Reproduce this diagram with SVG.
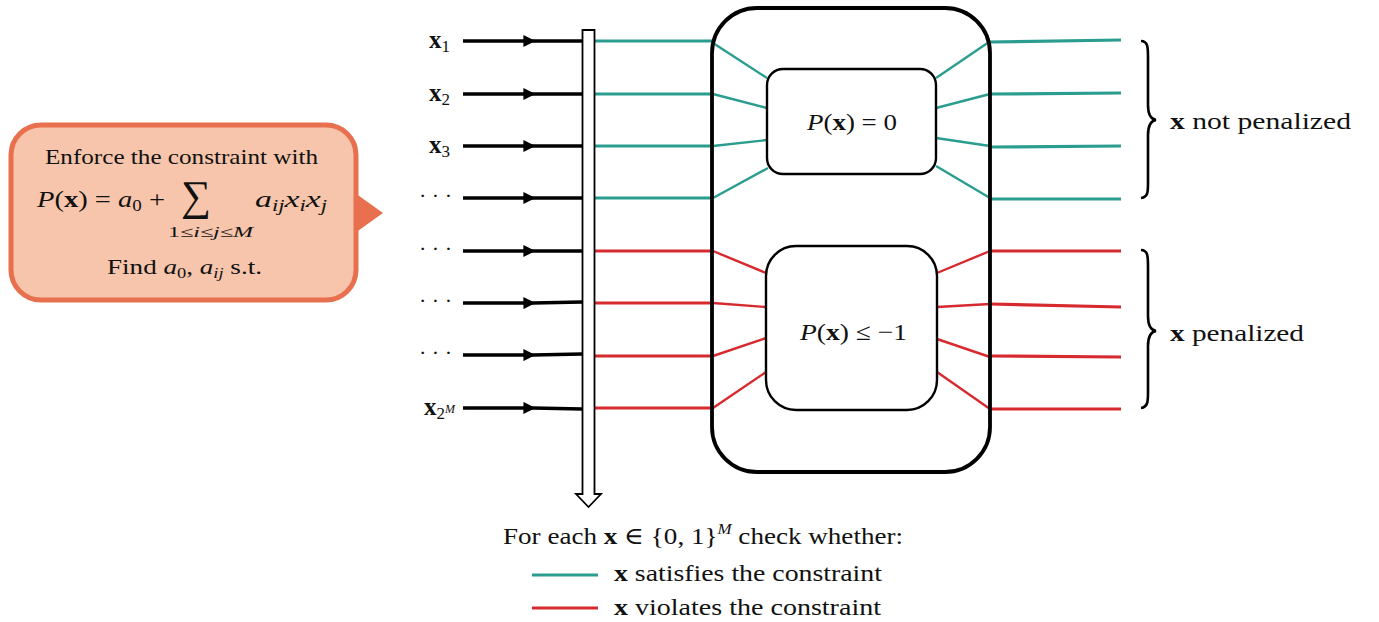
<svg xmlns="http://www.w3.org/2000/svg" width="1379" height="622" viewBox="0 0 1379 622">
<style>
text{font-family:"Liberation Serif","DejaVu Serif",serif;fill:#111;}
.b{font-weight:bold;}
.i{font-style:italic;}
.in{stroke:#000;stroke-width:3.5;fill:none;marker-mid:url(#ah);}
.g{stroke:#2a9d8f;stroke-width:3.2;fill:none;}
.gd{stroke:#2a9d8f;stroke-width:2.4;fill:none;}
.r{stroke:#d62a2f;stroke-width:3.2;fill:none;}
.rd{stroke:#d62a2f;stroke-width:2.4;fill:none;}
.br{stroke:#000;stroke-width:2.6;fill:none;}
</style>
<defs>
<marker id="ah" viewBox="0 0 10 10" refX="8" refY="5" markerWidth="12" markerHeight="12" markerUnits="userSpaceOnUse" orient="auto">
<path d="M0,0 L10,5 L0,10 z" fill="#000"/>
</marker>
</defs>
<rect width="1379" height="622" fill="#fff"/>

<g id="callout">
<path d="M355,193 L383,213 L355,233 z" fill="#e8704f"/>
<rect x="11" y="125" width="345" height="175" rx="30" fill="#f6c5ab" stroke="#e8704f" stroke-width="5"/>
<text x="45" y="164" font-size="22" textLength="273" lengthAdjust="spacingAndGlyphs">Enforce the constraint with</text>
<text x="37" y="207" font-size="24" textLength="128" lengthAdjust="spacingAndGlyphs"><tspan class="i">P</tspan>(<tspan class="b">x</tspan>) = <tspan class="i">a</tspan><tspan font-size="16" dy="4">0</tspan><tspan dy="-4"> +</tspan></text>
<text x="196" y="210" font-size="42" text-anchor="middle">∑</text>
<text x="168" y="237" font-size="15" textLength="85" lengthAdjust="spacingAndGlyphs"><tspan>1≤</tspan><tspan class="i">i</tspan><tspan>≤</tspan><tspan class="i">j</tspan><tspan>≤</tspan><tspan class="i">M</tspan></text>
<text x="255" y="207" font-size="24" class="i" textLength="72" lengthAdjust="spacingAndGlyphs">a<tspan font-size="16" dy="4">ij</tspan><tspan dy="-4">x</tspan><tspan font-size="16" dy="4">i</tspan><tspan dy="-4">x</tspan><tspan font-size="16" dy="4">j</tspan></text>
<text x="107" y="274" font-size="22" textLength="155" lengthAdjust="spacingAndGlyphs">Find <tspan class="i">a</tspan><tspan font-size="15" dy="4">0</tspan><tspan dy="-4">, </tspan><tspan class="i">a</tspan><tspan class="i" font-size="15" dy="4">ij</tspan><tspan dy="-4"> s.t.</tspan></text>
</g>

<g id="inputs">
<text x="450" y="48" font-size="25" text-anchor="end"><tspan class="b">x</tspan><tspan font-size="17" dy="4">1</tspan></text>
<text x="450" y="101" font-size="25" text-anchor="end"><tspan class="b">x</tspan><tspan font-size="17" dy="4">2</tspan></text>
<text x="450" y="153" font-size="25" text-anchor="end"><tspan class="b">x</tspan><tspan font-size="17" dy="4">3</tspan></text>
<text x="452" y="203" font-size="22" text-anchor="end">· · ·</text>
<text x="452" y="256" font-size="22" text-anchor="end">· · ·</text>
<text x="452" y="308" font-size="22" text-anchor="end">· · ·</text>
<text x="452" y="360" font-size="22" text-anchor="end">· · ·</text>
<text x="455" y="415" font-size="25" text-anchor="end"><tspan class="b">x</tspan><tspan font-size="17" dy="4">2</tspan><tspan font-size="12" class="i" dy="-6">M</tspan></text>
</g>

<g id="connectors">
<path class="in" d="M463,41 L533,41 L582,41"/>
<path class="in" d="M463,94 L533,94 L582,94"/>
<path class="in" d="M463,146 L533,146 L582,146"/>
<path class="in" d="M463,198 L533,198 L582,198"/>
<path class="in" d="M463,251 L533,251 L582,251"/>
<path class="in" d="M463,303 L533,303 L582,302"/>
<path class="in" d="M463,355 L533,355 L582,354"/>
<path class="in" d="M463,408 L533,408 L582,409"/>

<path class="g" d="M595,41 L712,41"/>
<path class="g" d="M595,94 L712,94"/>
<path class="g" d="M595,146 L712,146"/>
<path class="g" d="M595,198 L712,198"/>
<path class="r" d="M595,251 L712,251"/>
<path class="r" d="M595,303 L712,303"/>
<path class="r" d="M595,356 L712,356"/>
<path class="r" d="M595,408 L712,408"/>

<path class="gd" d="M713,43 L767,78"/>
<path class="gd" d="M713,94 L767,108"/>
<path class="gd" d="M713,146 L767,140"/>
<path class="gd" d="M713,198 L768,168"/>
<path class="gd" d="M936,78 L989,42"/>
<path class="gd" d="M936,108 L990,94"/>
<path class="gd" d="M936,138 L990,146"/>
<path class="gd" d="M936,166 L990,198"/>

<path class="rd" d="M713,251 L766,273"/>
<path class="rd" d="M713,303 L766,307"/>
<path class="rd" d="M713,356 L766,338"/>
<path class="rd" d="M713,408 L766,372"/>
<path class="rd" d="M937,273 L990,251"/>
<path class="rd" d="M937,307 L990,304"/>
<path class="rd" d="M937,339 L990,357"/>
<path class="rd" d="M937,372 L990,409"/>

<path class="g" d="M990,42 L1121,40"/>
<path class="g" d="M990,94 L1121,93"/>
<path class="g" d="M990,147 L1121,146"/>
<path class="g" d="M990,199 L1121,199"/>
<path class="r" d="M990,251 L1121,251"/>
<path class="r" d="M990,304 L1121,307"/>
<path class="r" d="M990,356 L1121,357"/>
<path class="r" d="M990,409 L1121,409"/>
</g>

<g id="scan-arrow">
<path d="M582.5,30 L594.5,30 L594.5,494 L601,494 L588.5,507 L576,494 L582.5,494 z" fill="#fff" stroke="#000" stroke-width="1.8"/>
</g>

<g id="checker">
<rect x="712" y="8" width="278" height="464" rx="45" fill="none" stroke="#000" stroke-width="3.8"/>
</g>

<g id="zero-box">
<rect x="767" y="69" width="169" height="105" rx="16" fill="#fff" stroke="#000" stroke-width="2.4"/>
<text x="807" y="130" font-size="24" textLength="90" lengthAdjust="spacingAndGlyphs"><tspan class="i">P</tspan>(<tspan class="b">x</tspan>) = 0</text>
</g>

<g id="neg-box">
<rect x="766" y="246" width="171" height="164" rx="30" fill="#fff" stroke="#000" stroke-width="2.4"/>
<text x="800" y="340" font-size="24" textLength="107" lengthAdjust="spacingAndGlyphs"><tspan class="i">P</tspan>(<tspan class="b">x</tspan>) ≤ −1</text>
</g>

<g id="braces">
<path class="br" d="M1141,41 C1148,41 1148,48 1148,57 L1148,105 C1148,113 1150,119 1156,120 C1150,121 1148,127 1148,135 L1148,183 C1148,192 1148,197 1141,198"/>
<path class="br" d="M1141,250 C1148,250 1148,257 1148,266 L1148,316 C1148,324 1150,330 1156,331 C1150,332 1148,338 1148,346 L1148,392 C1148,401 1148,407 1141,408"/>
<text x="1170" y="129" font-size="24" textLength="181" lengthAdjust="spacingAndGlyphs"><tspan class="b">x</tspan> not penalized</text>
<text x="1170" y="341" font-size="24" textLength="134" lengthAdjust="spacingAndGlyphs"><tspan class="b">x</tspan> penalized</text>
</g>

<g id="legend">
<text x="503" y="544" font-size="24" textLength="400" lengthAdjust="spacingAndGlyphs">For each <tspan class="b">x</tspan> ∈ {0, 1}<tspan font-size="15" class="i" dy="-10">M</tspan><tspan dy="10"> check whether:</tspan></text>
<path class="g" d="M532,575 L598,575" stroke-width="3.5"/>
<text x="614" y="581" font-size="23" textLength="268" lengthAdjust="spacingAndGlyphs"><tspan class="b">x</tspan> satisfies the constraint</text>
<path class="r" d="M532,608 L598,608" stroke-width="3.5"/>
<text x="614" y="615" font-size="23" textLength="267" lengthAdjust="spacingAndGlyphs"><tspan class="b">x</tspan> violates the constraint</text>
</g>
</svg>
